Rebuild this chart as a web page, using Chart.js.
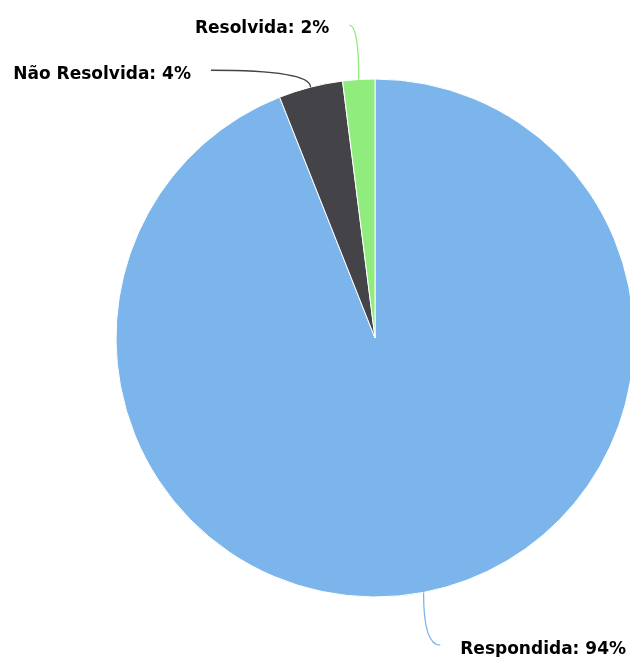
<!DOCTYPE html>
<html lang="pt">
<head>
  <meta charset="UTF-8">
  <title>Situação das ocorrências</title>
  <script src="https://cdn.jsdelivr.net/npm/chart.js"></script>
  <style>
    html, body { margin: 0; padding: 0; background: #fff; overflow: hidden; }
    #wrap { width: 630px; height: 657px; position: relative; }
  </style>
</head>
<body>
  <div id="wrap"><canvas id="chart"></canvas></div>

  <script>
    // data
    const labels = ["Respondida", "Não Resolvida", "Resolvida"];
    const values = [94, 4, 2];
    const colors = ["#7cb5ec", "#434348", "#90ed7d"];

    // where each label sits: angle (deg, clockwise from top) and side of the text
    const labelAngle = [168, -31.5, -4.7];
    const labelSide = ["right", "left", "left"];

    const pieLabels = {
      id: "pieLabels",
      afterDraw(chart) {
        const ctx = chart.ctx;
        const arcs = chart.getDatasetMeta(0).data;
        ctx.save();
        ctx.font = "bold 17px 'DejaVu Sans'";
        ctx.textBaseline = "middle";
        arcs.forEach((arc, i) => {
          const { x, y, outerRadius, startAngle, endAngle } = arc.getProps(["x", "y", "outerRadius", "startAngle", "endAngle"], true);
          const mid = (startAngle + endAngle) / 2;
          const ax = x + Math.cos(mid) * outerRadius;
          const ay = y + Math.sin(mid) * outerRadius;
          const a = (labelAngle[i] - 90) * Math.PI / 180;
          const d = outerRadius + 55;
          const ex = x + Math.cos(a) * d;
          const ey = y + Math.sin(a) * d;

          ctx.strokeStyle = colors[i];
          ctx.lineWidth = 1.3;
          ctx.beginPath();
          ctx.moveTo(ax, ay);
          ctx.quadraticCurveTo(ax, ey, ex, ey);
          ctx.stroke();

          const text = labels[i] + ": " + values[i] + "%";
          const right = labelSide[i] === "right";
          ctx.textAlign = right ? "left" : "right";
          const tx = right ? ex + 20 : ex - 20;
          const ty = ey + 4;
          ctx.lineJoin = "round";
          ctx.lineWidth = 2;
          ctx.strokeStyle = "#fff";
          ctx.strokeText(text, tx, ty);
          ctx.fillStyle = "#000";
          ctx.fillText(text, tx, ty);
        });
        ctx.restore();
      }
    };

    new Chart(document.getElementById("chart"), {
      type: "pie",
      data: {
        labels,
        datasets: [{
          data: values,
          backgroundColor: colors,
          borderColor: "#fff",
          borderWidth: 1,
          radius: 259
        }]
      },
      options: {
        responsive: true,
        maintainAspectRatio: false,
        animation: false,
        layout: { padding: { left: 120, right: 0, top: 19, bottom: 0 } },
        plugins: {
          legend: { display: false },
          tooltip: { enabled: false }
        }
      },
      plugins: [pieLabels]
    });
  </script>
</body>
</html>
